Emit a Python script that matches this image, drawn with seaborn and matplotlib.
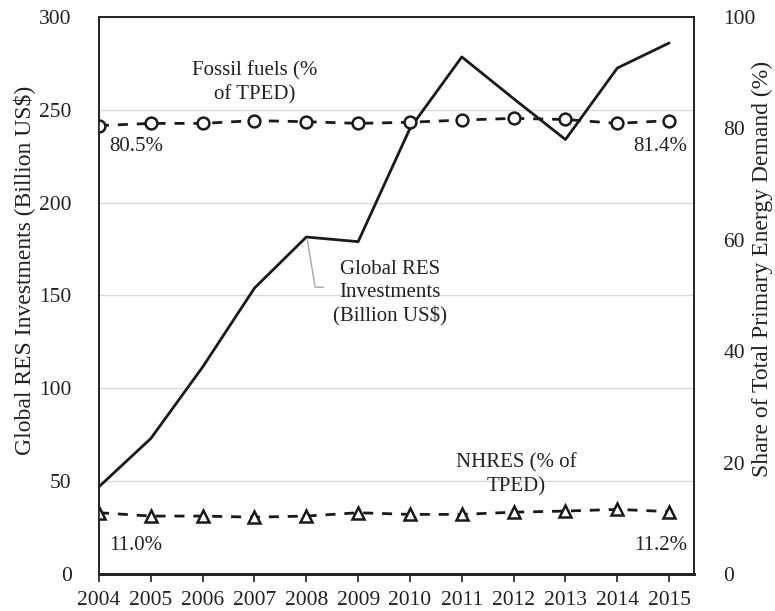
import matplotlib
matplotlib.use("Agg")
import matplotlib.pyplot as plt
import seaborn as sns
import pandas as pd

years = [2004, 2005, 2006, 2007, 2008, 2009, 2010, 2011, 2012, 2013, 2014, 2015]
res_investments = [47, 73, 111.5, 154, 181.5, 179, 240, 278.5, 256, 234, 272.5, 286]
fossil_share = [80.5, 80.9, 80.9, 81.4, 81.2, 80.9, 81.1, 81.5, 81.8, 81.6, 80.9, 81.4]
nhres_share = [11.0, 10.4, 10.4, 10.2, 10.4, 11.0, 10.7, 10.7, 11.1, 11.3, 11.6, 11.2]

left_ticks = [0, 50, 100, 150, 200, 250, 300]
right_ticks = [0, 20, 40, 60, 80, 100]

sns.set_theme(style="white")
plt.rcParams['font.family'] = ['Liberation Serif', 'DejaVu Serif']
plt.rcParams['mathtext.default'] = 'regular'

df = pd.DataFrame({"year": years, "res": res_investments,
                   "fossil": fossil_share, "nhres": nhres_share})

fig = plt.figure(figsize=(7.75, 6.11), dpi=100)
ax = fig.add_axes([99/775, 1 - 574/611, (694-99)/775, (574-17)/611])
ax2 = ax.twinx()

ink = "#1a1a1a"
dash = (0, (3.6, 3.2))
sns.lineplot(data=df, x="year", y="res", ax=ax, color=ink, linewidth=2.0, zorder=3)
sns.lineplot(data=df, x="year", y="fossil", ax=ax2, color=ink, linewidth=2.0,
             marker="o", markersize=8.5, markerfacecolor="white", markeredgecolor=ink,
             markeredgewidth=1.8, dashes=False, linestyle=dash)
sns.lineplot(data=df, x="year", y="nhres", ax=ax2, color=ink, linewidth=2.0,
             marker="^", markersize=8, markerfacecolor="white", markeredgecolor=ink,
             markeredgewidth=1.8, dashes=False, linestyle=dash)

ax.set_xlim(2004, 2015.48)
ax.set_ylim(0, 300)
ax2.set_ylim(0, 100)
ax.set_yticks(left_ticks)
ax2.set_yticks(right_ticks)
ax.set_xticks(years)
ax.set_xticklabels([str(y) for y in years])

ax.grid(axis="y", color="#d9d9d9", linewidth=1)
ax.grid(axis="x", visible=False)
ax2.grid(False)
ax.set_axisbelow(True)

for a in (ax, ax2):
    for s in a.spines.values():
        s.set_color("#222222")
        s.set_linewidth(1.2)
ax.spines["bottom"].set_linewidth(2.0)
ax2.spines["bottom"].set_linewidth(2.0)

tick_fs = 15.5
ax.tick_params(axis="x", direction="out", length=6, width=1.2, color="#222222",
               bottom=True, labelsize=tick_fs, pad=6.5, labelcolor="#222222")
ax.tick_params(axis="y", left=False, labelsize=tick_fs, pad=13.7, labelcolor="#222222")
ax2.tick_params(axis="y", right=False, labelsize=tick_fs, pad=15, labelcolor="#222222")

ax.set_xlabel("")
ax.set_ylabel("Global RES Investments (Billion US$)", fontsize=17, color="#222222")
ax2.set_ylabel("Share of Total Primary Energy Demand (%)", fontsize=17, color="#222222")
ax.yaxis.label.set_va("center")
ax2.yaxis.label.set_va("center")
ax.yaxis.set_label_coords((24 - 99) / 595, (574 - 270) / 557)
ax2.yaxis.set_label_coords((762 - 99) / 595, (574 - 269) / 557)

fs = 15
txtc = "#222222"
ax2.text(2007.01, 88.2, "Fossil fuels (%\nof TPED)", ha="center", va="center",
         fontsize=fs, color=txtc, linespacing=1.32)
ax2.text(2004.19, 76.7, "80.5%", ha="left", va="center", fontsize=fs, color=txtc)
ax2.text(2015.35, 76.7, "81.4%", ha="right", va="center", fontsize=fs, color=txtc)
ax2.text(2009.62, 50.4, "Global RES\nInvestments\n(Billion US$)", ha="center", va="center",
         fontsize=fs, color=txtc, linespacing=1.32)
ax2.text(2012.05, 17.8, "NHRES (% of\nTPED)", ha="center", va="center",
         fontsize=fs, color=txtc, linespacing=1.32)
ax2.text(2004.19, 5.2, "11.0%", ha="left", va="center", fontsize=fs, color=txtc)
ax2.text(2015.35, 5.2, "11.2%", ha="right", va="center", fontsize=fs, color=txtc)

# leader line from the 2008 point to the label
ax.plot([2008.02, 2008.17, 2008.33], [180, 154.5, 154.5], color="#a6a6a6", linewidth=1.0)

fig.savefig("out.png", dpi=100)
